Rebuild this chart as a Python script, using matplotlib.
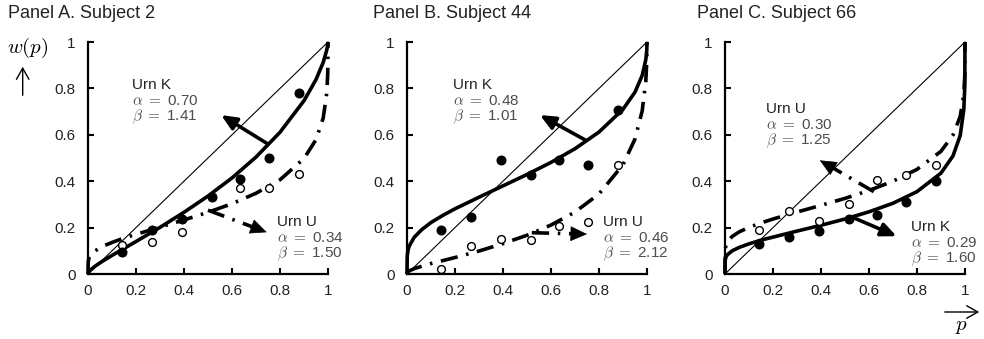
import matplotlib.pyplot as plt
from matplotlib.patches import FancyArrowPatch

plt.rcParams['font.family'] = ['Liberation Sans', 'DejaVu Sans']
plt.rcParams['mathtext.fontset'] = 'cm'

# fitted curves on a common p grid
p_grid = [0, 0.001, 0.005, 0.01, 0.03, 0.06, 0.1, 0.15, 0.2, 0.3, 0.4, 0.5,
          0.6, 0.7, 0.8, 0.9, 0.95, 0.98, 0.995, 0.999, 1]
a_curve_k = [0, 0.004, 0.011, 0.017, 0.034, 0.055, 0.080, 0.110, 0.140, 0.201, 0.266,
             0.336, 0.414, 0.504, 0.611, 0.747, 0.838, 0.912, 0.966, 0.989, 1]
a_curve_u = [0, 0.055, 0.071, 0.080, 0.100, 0.119, 0.136, 0.155, 0.171, 0.202, 0.233,
             0.266, 0.303, 0.348, 0.406, 0.498, 0.579, 0.672, 0.781, 0.867, 1]
b_curve_k = [0, 0.078, 0.106, 0.122, 0.158, 0.190, 0.222, 0.253, 0.281, 0.331, 0.380,
             0.429, 0.481, 0.540, 0.612, 0.710, 0.784, 0.856, 0.924, 0.964, 1]
b_curve_u = [0, 0.006, 0.010, 0.014, 0.023, 0.033, 0.045, 0.058, 0.071, 0.099, 0.131,
             0.167, 0.211, 0.267, 0.345, 0.471, 0.582, 0.703, 0.831, 0.915, 1]
c_curve_k = [0, 0.061, 0.075, 0.083, 0.100, 0.115, 0.130, 0.146, 0.159, 0.185, 0.210,
             0.237, 0.268, 0.305, 0.355, 0.435, 0.509, 0.597, 0.709, 0.806, 1]
c_curve_u = [0, 0.107, 0.127, 0.139, 0.162, 0.182, 0.201, 0.220, 0.237, 0.267, 0.296,
             0.326, 0.360, 0.400, 0.451, 0.529, 0.599, 0.679, 0.775, 0.854, 1]

# observed points
pts_p = [0.14, 0.265, 0.39, 0.515, 0.635, 0.755, 0.88]
a_pts_k = [0.095, 0.19, 0.235, 0.33, 0.41, 0.50, 0.78]
a_pts_u = [0.125, 0.14, 0.18, 0.33, 0.37, 0.37, 0.43]
b_pts_k = [0.19, 0.245, 0.49, 0.425, 0.49, 0.47, 0.705]
b_pts_u = [0.02, 0.12, 0.15, 0.145, 0.205, 0.225, 0.47]
c_pts_k = [0.13, 0.16, 0.185, 0.235, 0.255, 0.31, 0.40]
c_pts_u = [0.19, 0.27, 0.23, 0.30, 0.405, 0.425, 0.47]

titles = ['Panel A. Subject 2', 'Panel B. Subject 44', 'Panel C. Subject 66']
params_k = [('0.70', '1.41'), ('0.48', '1.01'), ('0.29', '1.60')]
params_u = [('0.34', '1.50'), ('0.46', '2.12'), ('0.30', '1.25')]
ticks = [0, 0.2, 0.4, 0.6, 0.8, 1]
tick_labels = ['0', '0.2', '0.4', '0.6', '0.8', '1']

curves_k = [a_curve_k, b_curve_k, c_curve_k]
curves_u = [a_curve_u, b_curve_u, c_curve_u]
points_k = [a_pts_k, b_pts_k, c_pts_k]
points_u = [a_pts_u, b_pts_u, c_pts_u]

# layout (axes left edges in px, text anchors and arrows in data units)
lefts = [88, 407, 725]
title_x = [8, 373, 697]
label_k = [(0.185, 0.815), (0.19, 0.815), (0.775, 0.203)]
label_u = [(0.786, 0.224), (0.817, 0.224), (0.169, 0.711)]
arrow_k = [((0.75, 0.56), (0.555, 0.685)), ((0.742, 0.578), (0.554, 0.685)),
           ((0.53, 0.245), (0.715, 0.163))]
arrow_u = [((0.50, 0.275), (0.745, 0.18)), ((0.52, 0.178), (0.75, 0.172)),
           ((0.62, 0.355), (0.395, 0.49))]

W, H = 984, 339
LW = 2.6
DASH = (4.8, 2.4, 0.7, 2.4)
fig = plt.figure(figsize=(W / 100, H / 100), dpi=100)


def draw_arrow(ax, start, end, dashed):
    (x0, y0), (x1, y1) = start, end
    if dashed:
        # dash-dot shaft stopping short of the head, then a filled head
        f = 0.80
        xm, ym = x0 + f * (x1 - x0), y0 + f * (y1 - y0)
        ax.plot([x0, xm], [y0, ym], color='k', lw=LW, dashes=DASH,
                solid_capstyle='butt', dash_capstyle='butt', zorder=3)
        xs, ys = x0 + 0.9 * (x1 - x0), y0 + 0.9 * (y1 - y0)
        arr = FancyArrowPatch((xs, ys), (x1, y1),
                              arrowstyle='-|>,head_length=1.1,head_width=0.5',
                              mutation_scale=10, color='k', lw=0.5,
                              shrinkA=0, shrinkB=0, zorder=3)
    else:
        arr = FancyArrowPatch((x0, y0), (x1, y1),
                              arrowstyle='-|>,head_length=0.9,head_width=0.4',
                              mutation_scale=10, color='k', lw=LW,
                              shrinkA=0, shrinkB=0, zorder=3)
    ax.add_patch(arr)


def draw_label(ax, xy, name, a, b):
    x, y = xy
    step = 0.069
    ax.text(x, y, name, fontsize=11, color='#222222', va='center', ha='left')
    ax.text(x, y - step, r'$\alpha$ $=$ ' + a, fontsize=11, color='#4d4d4d',
            va='center', ha='left')
    ax.text(x, y - 2 * step, r'$\beta$ $=$ ' + b, fontsize=11, color='#4d4d4d',
            va='center', ha='left')


for i in range(3):
    ax = fig.add_axes([lefts[i] / W, (H - 274) / H, 240 / W, 232 / H])
    ax.plot([0, 1], [0, 1], color='k', lw=0.8, zorder=1, clip_on=False)
    ax.plot(p_grid, curves_k[i], color='k', lw=LW, zorder=2, clip_on=False,
            solid_capstyle='butt')
    ax.plot(p_grid, curves_u[i], color='k', lw=LW, dashes=DASH, zorder=2,
            clip_on=False, dash_capstyle='butt')
    ax.plot(pts_p, points_u[i], 'o', ms=5.6, mfc='white', mec='k', mew=1.0,
            zorder=4, clip_on=False)
    ax.plot(pts_p, points_k[i], 'o', ms=6.2, mfc='k', mec='k', zorder=5,
            clip_on=False)

    draw_arrow(ax, arrow_k[i][0], arrow_k[i][1], False)
    draw_arrow(ax, arrow_u[i][0], arrow_u[i][1], True)
    draw_label(ax, label_k[i], 'Urn K', *params_k[i])
    draw_label(ax, label_u[i], 'Urn U', *params_u[i])

    ax.set_xlim(0, 1)
    ax.set_ylim(0, 1)
    ax.set_xticks(ticks)
    ax.set_yticks(ticks)
    ax.set_xticklabels(tick_labels)
    ax.set_yticklabels(tick_labels)
    ax.tick_params(direction='in', length=4, width=1.5, labelsize=11,
                   colors='k', labelcolor='#222222')
    ax.tick_params(axis='x', pad=7)
    ax.tick_params(axis='y', pad=9)
    for s in ['top', 'right']:
        ax.spines[s].set_visible(False)
    for s in ['left', 'bottom']:
        ax.spines[s].set_linewidth(1.6)
    ax.patch.set_alpha(0)

    fig.text(title_x[i] / W, 1 - 14 / H, titles[i], fontsize=13, color='#222222',
             ha='left', va='center')

# axis names with arrows
fig.text(28 / W, 1 - 48 / H, r'$w(p)$', fontsize=15, ha='center', va='center')
fig.patches.append(FancyArrowPatch((22.7 / W, 1 - 98 / H), (22.7 / W, 1 - 64 / H),
                                   transform=fig.transFigure,
                                   arrowstyle='->,head_length=0.8,head_width=0.45',
                                   mutation_scale=10, lw=1.0, color='k'))
fig.text(962 / W, 1 - 326 / H, r'$p$', fontsize=15, ha='center', va='center')
fig.patches.append(FancyArrowPatch((942 / W, 1 - 312 / H), (982 / W, 1 - 312 / H),
                                   transform=fig.transFigure,
                                   arrowstyle='->,head_length=0.8,head_width=0.45',
                                   mutation_scale=10, lw=1.0, color='k'))

fig.savefig('out.png', dpi=100)
